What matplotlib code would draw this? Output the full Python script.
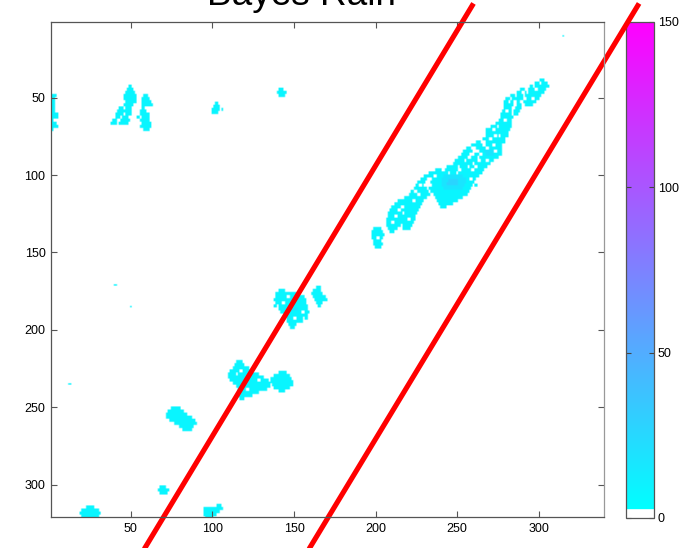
import numpy as np
import matplotlib
matplotlib.use('Agg')
import matplotlib.pyplot as plt
from matplotlib.colors import LinearSegmentedColormap

plt.rcParams['font.family'] = ['Liberation Sans', 'DejaVu Sans']

# rain cells: (row, first column, last column, ...)
band = [
    (38, 301, 303), (40, 298, 300, 302, 305), (42, 295, 296, 298, 306),
    (44, 289, 291, 294, 304), (46, 287, 292, 294, 303),
    (48, 283, 285, 287, 290, 292, 301), (50, 280, 282, 284, 290, 293, 300),
    (52, 279, 281, 283, 288, 291, 298), (54, 279, 284, 287, 289, 292, 296),
    (56, 279, 283, 286, 289), (58, 278, 283, 285, 288), (60, 277, 283, 285, 287),
    (62, 277, 284), (64, 276, 283), (66, 274, 283), (68, 271, 274, 276, 283),
    (70, 268, 282), (72, 268, 281), (74, 268, 275, 277, 281), (76, 266, 279),
    (78, 262, 264, 268, 279), (80, 259, 265, 268, 277),
    (82, 256, 258, 262, 267, 270, 277), (84, 254, 259, 264, 267, 269, 277),
    (86, 253, 257, 261, 263, 266, 277), (88, 251, 256, 259, 262, 264, 275),
    (90, 249, 254, 256, 262, 265, 272), (92, 248, 259, 261, 270),
    (94, 244, 250, 252, 256, 258, 268), (96, 237, 240, 243, 250, 253, 266),
    (98, 233, 244, 246, 249, 251, 265), (100, 230, 263),
    (102, 228, 231, 235, 261), (104, 226, 230, 234, 260),
    (106, 225, 229, 235, 259, 261, 262), (108, 224, 231, 233, 258),
    (110, 222, 232, 234, 257), (112, 221, 233, 236, 256),
    (114, 218, 231, 237, 253), (116, 214, 229, 238, 250),
    (118, 212, 228, 239, 247), (120, 210, 227, 240, 243), (122, 209, 226),
    (124, 208, 216, 218, 225), (126, 208, 224), (128, 207, 224), (130, 207, 223),
    (132, 207, 215, 217, 222), (134, 199, 203, 208, 213, 217, 221), (136, 198, 204, 209, 211),
    (138, 198, 205), (140, 198, 204), (142, 199, 203), (144, 199, 204), (146, 200, 203),
]
blob_f = [
    (174, 141, 144), (176, 139, 151), (178, 139, 156),
    (180, 138, 157), (182, 139, 157), (184, 138, 139, 141, 158), (186, 141, 158),
    (188, 142, 159), (190, 144, 158), (192, 146, 155, 157, 158),
    (194, 146, 155), (196, 147, 151), (198, 148, 150),
]
blob_g = [
    (172, 164, 166), (174, 162, 166), (176, 161, 167), (178, 162, 169),
    (180, 163, 170), (182, 164, 167), (184, 165, 166),
]
blob_h = [
    (220, 115, 118), (222, 114, 119), (224, 113, 122), (226, 111, 123),
    (228, 110, 114, 116, 128), (230, 110, 131), (232, 111, 134), (234, 113, 135),
    (236, 115, 135), (238, 116, 133), (240, 116, 128), (242, 116, 124), (244, 117, 119),
]
blob_i = [
    (227, 141, 145), (229, 138, 147), (231, 136, 148), (233, 136, 149),
    (235, 137, 149), (237, 138, 147), (239, 141, 144),
]
blob_j = [
    (250, 75, 80), (252, 73, 82), (254, 72, 84), (256, 72, 87),
    (258, 74, 89), (260, 77, 90), (262, 80, 88), (264, 82, 87),
]
blob_k = [(301, 68, 71), (303, 67, 73), (305, 68, 72)]
blob_l = [(314, 23, 27), (316, 20, 30), (318, 19, 31), (320, 20, 30)]
blob_m = [(313, 103, 105), (315, 95, 100, 101, 106), (317, 95, 104), (319, 95, 102), (321, 96, 100)]
blob_a = [
    (48, 1, 4), (50, 1, 3), (52, 1, 3), (54, 1, 3), (56, 1, 3), (58, 1, 3),
    (60, 1, 5), (62, 1, 5), (64, 1, 2), (66, 1, 4), (68, 1, 5), (70, 1, 2),
]
blob_b = [
    (42, 49, 50), (44, 48, 51), (46, 47, 52), (48, 46, 53), (50, 46, 53),
    (52, 47, 53), (54, 46, 51), (56, 43, 45, 47, 50), (58, 42, 50),
    (60, 41, 45, 47, 50), (62, 41, 43, 45, 50), (64, 39, 41, 44, 49), (66, 38, 41, 43, 48),
]
blob_c = [
    (48, 58, 60), (50, 57, 61), (52, 57, 62), (54, 57, 63), (56, 57, 60),
    (58, 56, 59), (60, 56, 61), (62, 54, 55, 57, 61), (64, 56, 61),
    (66, 57, 62), (68, 56, 62), (70, 58, 61),
]
blob_d = [(53, 102, 103), (55, 101, 104), (57, 100, 104, 106, 106), (59, 100, 103)]
blob_e = [(44, 141, 143), (46, 140, 145), (48, 141, 144)]
specks = [(10, 315, 315), (171, 40, 41), (185, 50, 50), (235, 12, 13)]

# heavier rain inside the band and in blob f
warm_cells = [(84, 267, 272), (86, 268, 272), (100, 242, 253), (102, 241, 255), (104, 241, 255),
              (106, 241, 254), (108, 242, 253), (186, 149, 152)]
core_cells = [(103, 245, 250), (105, 244, 250)]

# small dry holes inside the rain areas, (row, column)
dry_rows = [44, 46, 50, 52, 58, 64, 70, 74, 76, 80, 84, 90, 94, 96, 100, 102, 106, 110, 112,
            116, 120, 122, 126, 128, 130, 140, 178, 182, 188, 192, 226, 232, 238, 62, 56]
dry_cols = [298, 290, 296, 285, 280, 279, 272, 273, 270, 272, 273, 268, 261, 259, 236, 258, 227, 224,
            226, 223, 216, 214, 212, 220, 210, 201, 146, 143, 155, 150, 117, 128, 121, 49, 59]

x_ticks = [50, 100, 150, 200, 250, 300]
y_ticks = [50, 100, 150, 200, 250, 300]
cbar_ticks = [0, 50, 100, 150]

line1_x = [58, 260]
line1_y = [342, -11]
line2_x = [159, 361.5]
line2_y = [342, -11]

W, H = 688, 548
grid = np.zeros((321, 340))


def paint(runs, level, height=2):
    for run in runs:
        row = run[0]
        for i in range(1, len(run), 2):
            grid[row - 1:min(row - 1 + height, 321), run[i] - 1:run[i + 1]] = level


for blob in [band, blob_f, blob_g, blob_h, blob_i, blob_j, blob_k, blob_l, blob_m,
             blob_a, blob_b, blob_c, blob_d, blob_e]:
    paint(blob, 8)
paint(specks, 8, height=1)
paint(warm_cells, 17)
paint(core_cells, 27)
for r, c in zip(dry_rows, dry_cols):
    grid[r - 1:r + 1, c - 1:c + 1] = 0

cmap = LinearSegmentedColormap.from_list(
    'rain', [(0, 'white'), (0.0166, 'white'), (0.0167, 'cyan'), (1, 'magenta')], N=1024)

fig = plt.figure(figsize=(W / 100, H / 100), dpi=100)
ax = fig.add_axes([51 / W, 1 - 517 / H, 553 / W, 495 / H])
im = ax.imshow(grid, cmap=cmap, vmin=0, vmax=150, aspect='auto',
               interpolation='bilinear', extent=(0.5, 340.5, 321.5, 0.5))
ax.set_xlim(1, 340)
ax.set_ylim(321, 1)
ax.set_xticks(x_ticks)
ax.set_yticks(y_ticks)
ax.tick_params(direction='in', top=True, right=True, length=4.5, width=0.8,
               color='#555555', labelsize=9, labelcolor='black', pad=4)
for side in ax.spines:
    ax.spines[side].set_color('#555555')
    ax.spines[side].set_linewidth(0.9)
ax.spines['right'].set_color('#999999')

# the two red lines run over the title area and the colour bar
ax.plot(line1_x, line1_y, color='#ff0000', lw=3.7, clip_on=False, solid_capstyle='butt')
ax.plot(line2_x, line2_y, color='#ff0000', lw=3.7, clip_on=False, solid_capstyle='butt')
ax.set_zorder(2)

cax = fig.add_axes([626 / W, 1 - 518 / H, 27.5 / W, 496 / H])
cb = fig.colorbar(im, cax=cax)
cb.set_ticks(cbar_ticks)
cb.outline.set_edgecolor('#555555')
cb.outline.set_linewidth(0.9)
cax.tick_params(direction='in', left=True, right=True, length=3.5, width=0.8,
                color='#444444', labelsize=9, labelcolor='black', pad=3)

fig.text(301 / W, 1 - 5 / H, 'Bayes Rain', ha='center', va='baseline', fontsize=26.6)

fig.savefig('out.png', dpi=100)
